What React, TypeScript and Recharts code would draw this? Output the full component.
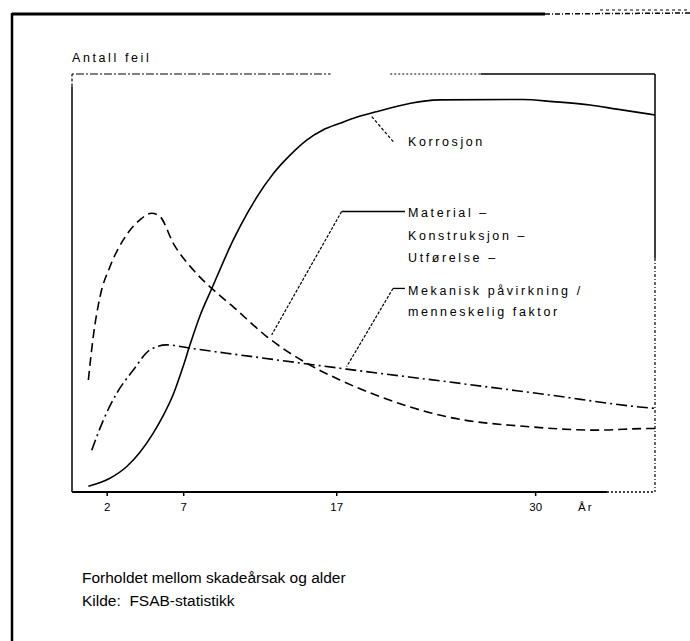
import React from "react";
import { LineChart, Line, XAxis, YAxis, ReferenceLine } from "recharts";

// age in years -> relative number of faults
const korrosjon: [number, number][] = [
  [0.77, 1.4], [2.18, 3.3], [3.28, 6.1], [5.01, 14.1], [5.65, 18.2], [6.3, 23.2],
  [6.95, 29.9], [7.41, 35.2], [8.06, 42.1], [8.85, 48.8], [10.24, 60.3], [10.68, 63.5],
  [12.86, 76.2], [13.95, 80.6], [15.04, 84.2], [16.1, 86.6], [17.21, 88.2], [18.33, 89.7],
  [19.5, 90.9], [23.75, 93.8], [29.17, 93.9], [31.13, 93.4], [33.55, 92.6], [35.3, 91.6],
  [37.8, 90.2],
];

const material: [number, number][] = [
  [0.77, 26.8], [1.09, 37.2], [1.53, 46.7], [2.18, 53.9], [3.05, 60.3], [4.14, 65.1],
  [4.91, 66.7], [5.45, 65.9], [6.32, 59.5], [7.63, 53.1], [8.83, 48.7], [10.24, 44.3],
  [12.42, 37.2], [15.04, 30.8], [17.21, 26.8], [19.83, 22.8], [24.19, 18.0], [29.63, 15.6],
  [33.99, 14.8], [37.47, 15.2], [37.8, 15.2],
];

const mekanisk: [number, number][] = [
  [0.99, 10.0], [1.75, 17.2], [2.62, 23.6], [3.71, 29.2], [4.8, 34.0], [5.89, 35.2],
  [7.41, 34.4], [9.81, 33.2], [11.86, 32.2], [17.65, 29.4], [25.25, 25.9], [30.72, 23.3],
  [37.47, 20.1], [37.8, 20.0],
];

const xTicks = [2, 7, 17, 30];
const xDomain: [number, number] = [-0.3, 37.8];
const yDomain: [number, number] = [0, 100];

const toPoints = (rows: [number, number][]) => rows.map(([x, y]) => ({ x, y }));

const FONT = '"Liberation Sans", Arial, sans-serif';
const black = "#000";

export default function App() {
  const labelStyle: React.CSSProperties = { fontFamily: FONT, fontSize: 12.5, letterSpacing: 2.6, fill: black };

  return (
    <div style={{ position: "absolute", left: 0, top: 0, width: 690, height: 641, background: "#fff" }}>
      <LineChart width={690} height={641} margin={{ top: 74, right: 35, left: 72, bottom: 119 }}>
        <XAxis
          type="number"
          dataKey="x"
          domain={xDomain}
          ticks={xTicks}
          allowDataOverflow
          height={30}
          axisLine={false}
          tickLine={{ stroke: black, strokeWidth: 1.5 }}
          tickSize={4}
          tickMargin={7}
          tick={{ fill: black, fontSize: 11.5, fontFamily: FONT }}
        />
        <YAxis type="number" domain={yDomain} hide allowDataOverflow />

        {/* plot frame */}
        <ReferenceLine segment={[{ x: -0.3, y: 0 }, { x: 34.66, y: 0 }]} stroke={black} strokeWidth={2} ifOverflow="visible" />
        <ReferenceLine segment={[{ x: 34.66, y: 0 }, { x: 37.8, y: 0 }]} stroke={black} strokeWidth={1.5} strokeDasharray="2 2" ifOverflow="visible" />
        <ReferenceLine segment={[{ x: -0.3, y: 0 }, { x: -0.3, y: 97 }]} stroke={black} strokeWidth={1.5} ifOverflow="visible" />
        <ReferenceLine segment={[{ x: -0.3, y: 97 }, { x: -0.3, y: 100 }]} stroke={black} strokeWidth={1.2} strokeDasharray="3 2" ifOverflow="visible" />
        <ReferenceLine segment={[{ x: -0.3, y: 100 }, { x: 16.6, y: 100 }]} stroke={black} strokeWidth={1.2} strokeDasharray="2 2 8 2" ifOverflow="visible" />
        <ReferenceLine segment={[{ x: 20.5, y: 100 }, { x: 26.4, y: 100 }]} stroke={black} strokeWidth={1.2} strokeDasharray="2 2" ifOverflow="visible" />
        <ReferenceLine segment={[{ x: 26.4, y: 100 }, { x: 37.8, y: 100 }]} stroke={black} strokeWidth={1.5} ifOverflow="visible" />
        <ReferenceLine segment={[{ x: 37.8, y: 100 }, { x: 37.8, y: 56 }]} stroke={black} strokeWidth={1.5} ifOverflow="visible" />
        <ReferenceLine segment={[{ x: 37.8, y: 56 }, { x: 37.8, y: 0 }]} stroke={black} strokeWidth={1.2} strokeDasharray="3 2 1 2" ifOverflow="visible" />

        {/* leader lines */}
        <ReferenceLine segment={[{ x: 19.29, y: 89.8 }, { x: 20.7, y: 83.8 }]} stroke={black} strokeWidth={1.2} strokeDasharray="3 2" ifOverflow="visible" />
        <ReferenceLine segment={[{ x: 17.32, y: 67.1 }, { x: 21.46, y: 67.1 }]} stroke={black} strokeWidth={1.3} ifOverflow="visible" />
        <ReferenceLine segment={[{ x: 17.32, y: 67.1 }, { x: 12.75, y: 37.6 }]} stroke={black} strokeWidth={1.2} strokeDasharray="3 1.5" ifOverflow="visible" />
        <ReferenceLine segment={[{ x: 20.68, y: 48.7 }, { x: 21.46, y: 48.7 }]} stroke={black} strokeWidth={1.3} ifOverflow="visible" />
        <ReferenceLine segment={[{ x: 20.68, y: 48.7 }, { x: 17.65, y: 30.0 }]} stroke={black} strokeWidth={1.2} strokeDasharray="3 1.5" ifOverflow="visible" />

        <Line data={toPoints(korrosjon)} dataKey="y" type="monotone" stroke={black} strokeWidth={1.6} dot={false} isAnimationActive={false} />
        <Line data={toPoints(material)} dataKey="y" type="monotone" stroke={black} strokeWidth={1.6} strokeDasharray="9 5" dot={false} isAnimationActive={false} />
        <Line data={toPoints(mekanisk)} dataKey="y" type="monotone" stroke={black} strokeWidth={1.6} strokeDasharray="11 4 2 4" dot={false} isAnimationActive={false} />
      </LineChart>

      <svg width={690} height={641} style={{ position: "absolute", left: 0, top: 0, pointerEvents: "none" }}>
        {/* outer frame */}
        <line x1={12} y1={14} x2={545} y2={14} stroke={black} strokeWidth={3} />
        <line x1={545} y1={14} x2={690} y2={13} stroke={black} strokeWidth={1.5} strokeDasharray="5 2 1 2" />
        <line x1={600} y1={10} x2={690} y2={10} stroke={black} strokeWidth={1} strokeDasharray="3 3" />
        <line x1={12} y1={13} x2={12} y2={641} stroke={black} strokeWidth={2.5} />

        <text x={72} y={62} style={labelStyle}>Antall feil</text>

        <text x={408} y={146} style={labelStyle}>Korrosjon</text>
        <text x={408} y={217} style={labelStyle}>Material –</text>
        <text x={408} y={240} style={labelStyle}>Konstruksjon –</text>
        <text x={408} y={262} style={labelStyle}>Utførelse –</text>
        <text x={408} y={295} style={labelStyle}>Mekanisk påvirkning /</text>
        <text x={408} y={316} style={labelStyle}>menneskelig  faktor</text>

        <text x={578} y={511} style={{ fontFamily: FONT, fontSize: 11.5, fill: black, letterSpacing: 2 }}>År</text>

        <text x={82} y={583} style={{ fontFamily: FONT, fontSize: 15.5, fill: black }}>Forholdet mellom skadeårsak og alder</text>
        <text x={82} y={606} style={{ fontFamily: FONT, fontSize: 15.5, fill: black }} xmlSpace="preserve">Kilde:  FSAB-statistikk</text>
      </svg>
    </div>
  );
}
